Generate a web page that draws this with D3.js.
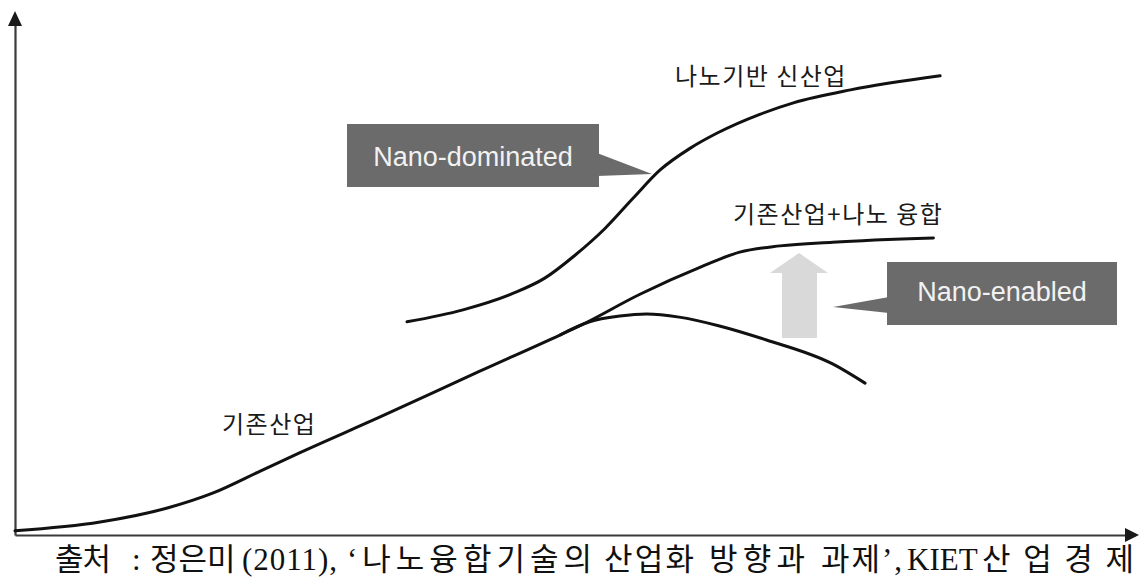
<!DOCTYPE html>
<html>
<head>
<meta charset="utf-8">
<script src="https://cdn.jsdelivr.net/npm/d3@7"></script>
<style>
  html, body { margin: 0; padding: 0; background: #fff; }
  svg { display: block; }
</style>
</head>
<body>
<svg id="chart" width="1139" height="580"></svg>
<script>
// Existing industry (기존산업) continuing into nano convergence, time vs. level (0-100)
const baseX = [0, 7.6, 13.6, 17.7, 21.9, 25.4, 32.6, 41.5, 48.7, 50.4, 55.8, 61.2, 64.7, 68.3, 73.0, 82.0];
const baseY = [0.8, 2.5, 5.2, 8.1, 12.3, 15.8, 22.7, 31.5, 38.5, 40.2, 46.3, 51.5, 54.4, 55.6, 56.3, 57.1];

// Existing industry without nano (declining branch)
const declineX = [48.7, 51.3, 54.0, 56.4, 59.3, 62.9, 67.1, 73.0, 75.9];
const declineY = [38.5, 41.0, 42.1, 42.5, 41.9, 40.2, 37.5, 32.9, 29.2];

// Nano-based new industry (나노기반 신산업)
const newX = [35.0, 40.0, 44.5, 47.3, 50.0, 52.7, 55.2, 57.6, 60.3, 62.7, 66.5, 69.5, 74.6, 82.6];
const newY = [41.0, 43.3, 46.5, 49.4, 53.8, 59.0, 64.8, 70.2, 74.4, 77.3, 80.9, 83.1, 85.6, 88.3];

const curveLabels = ["나노기반 신산업", "기존산업+나노 융합", "기존산업"];
const calloutLabels = ["Nano-dominated", "Nano-enabled"];
// source line: 출처 : 정은미(2011), ‘나노융합기술의 산업화 방향과 과제’, KIET산업경제
const captionRuns = ["출처", ":", "정은미", "(2011),", "‘나노융합기술의", "산업화", "방향과", "과제’,", "KIET", "산업경제"];

const svg = d3.select("#chart");

const x = d3.scaleLinear().domain([0, 100]).range([15, 1135]);
const y = d3.scaleLinear().domain([0, 100]).range([535, 15]);

const toPoints = (xs, ys) => xs.map((v, i) => [v, ys[i]]);

// Axes: plain lines with arrowheads, no ticks
const axisColor = "#3a3a3a";
svg.append("g")
    .attr("transform", `translate(${x(0)},0)`)
    .call(d3.axisLeft(y).tickValues([]).tickSizeOuter(0))
    .select(".domain")
    .attr("stroke", axisColor)
    .attr("stroke-width", 2.2);

svg.append("g")
    .attr("transform", `translate(0,${y(0)})`)
    .call(d3.axisBottom(x).tickValues([]).tickSizeOuter(0))
    .select(".domain")
    .attr("stroke", axisColor)
    .attr("stroke-width", 2.2);

// arrowheads
svg.append("path")
    .attr("d", `M${x(0)},${y(100) - 4} L${x(0) - 7},${y(100) + 11} L${x(0) + 7},${y(100) + 11} Z`)
    .attr("fill", "#1a1a1a");
svg.append("path")
    .attr("d", `M${x(100) + 4},${y(0)} L${x(100) - 10},${y(0) - 7} L${x(100) - 10},${y(0) + 7} Z`)
    .attr("fill", "#1a1a1a");

// Curves
const line = d3.line()
    .x(d => x(d[0]))
    .y(d => y(d[1]))
    .curve(d3.curveMonotoneX);

const series = [
    toPoints(baseX, baseY),
    toPoints(declineX, declineY),
    toPoints(newX, newY)
];

svg.append("g")
    .selectAll("path")
    .data(series)
    .join("path")
    .attr("d", line)
    .attr("fill", "none")
    .attr("stroke", "#111")
    .attr("stroke-width", 3)
    .attr("stroke-linecap", "round")
    .attr("stroke-linejoin", "round");

// Curve labels
const korFont = "'Noto Sans CJK KR', 'Noto Sans', sans-serif";
const labelPos = [[675, 85], [733, 223], [222, 433]];
svg.append("g")
    .selectAll("text")
    .data(curveLabels)
    .join("text")
    .attr("x", (d, i) => labelPos[i][0])
    .attr("y", (d, i) => labelPos[i][1])
    .attr("font-family", korFont)
    .attr("font-size", 24)
    .attr("letter-spacing", 1.5)
    .attr("fill", "#1a1a1a")
    .text(d => d);

// Gray upward arrow (convergence lift)
svg.append("path")
    .attr("d", "M782,338 L782,273 L770,273 L799,253 L828,273 L817,273 L817,338 Z")
    .attr("fill", "#d9d9d9");

// Callout boxes
const boxFill = "#6b6b6b";
function callout(box, base, tip, label, baseline) {
    svg.append("path")
        .attr("d", `M${base[0][0]},${base[0][1]} L${tip[0]},${tip[1]} L${base[1][0]},${base[1][1]} Z`)
        .attr("fill", boxFill);
    svg.append("rect")
        .attr("x", box[0])
        .attr("y", box[1])
        .attr("width", box[2] - box[0])
        .attr("height", box[3] - box[1])
        .attr("fill", boxFill);
    svg.append("text")
        .attr("x", (box[0] + box[2]) / 2)
        .attr("y", baseline)
        .attr("text-anchor", "middle")
        .attr("font-family", "'Liberation Sans', Arial, sans-serif")
        .attr("font-size", 27)
        .attr("fill", "#f2f2f2")
        .text(label);
}

// Nano-dominated points at the steep part of the new-industry curve
callout([347, 124, 599, 187], [[597, 153], [597, 176]], [652, 174], calloutLabels[0], 166);
// Nano-enabled points at the gray arrow
callout([887, 262, 1117, 325], [[889, 297], [889, 313]], [833, 307], calloutLabels[1], 301);

// Source caption: each run placed at its start; runs with an end are spaced out to reach it
const runSpans = [[55, 111], [132, null], [150, null], [242, 337], [347, 592],
                  [604, 694], [709, 805], [821, 902], [907, null], [982, 1134]];
const isHangul = s => /[\uAC00-\uD7A3]/.test(s);
svg.append("g")
    .selectAll("text")
    .data(captionRuns)
    .join("text")
    .attr("x", (d, i) => runSpans[i][0])
    .attr("y", 570)
    .attr("fill", "#111")
    .each(function (run, i) {
        const t = d3.select(this);
        run.match(/[\uAC00-\uD7A3]+|[^\uAC00-\uD7A3]+/g).forEach(r => {
            t.append("tspan")
                .attr("font-family", isHangul(r) ? korFont : "'Liberation Serif', serif")
                .attr("font-size", 31)
                .text(r);
        });
        if (runSpans[i][1] !== null) {
            t.attr("textLength", runSpans[i][1] - runSpans[i][0])
                .attr("lengthAdjust", "spacing");
        }
    });
</script>
</body>
</html>
